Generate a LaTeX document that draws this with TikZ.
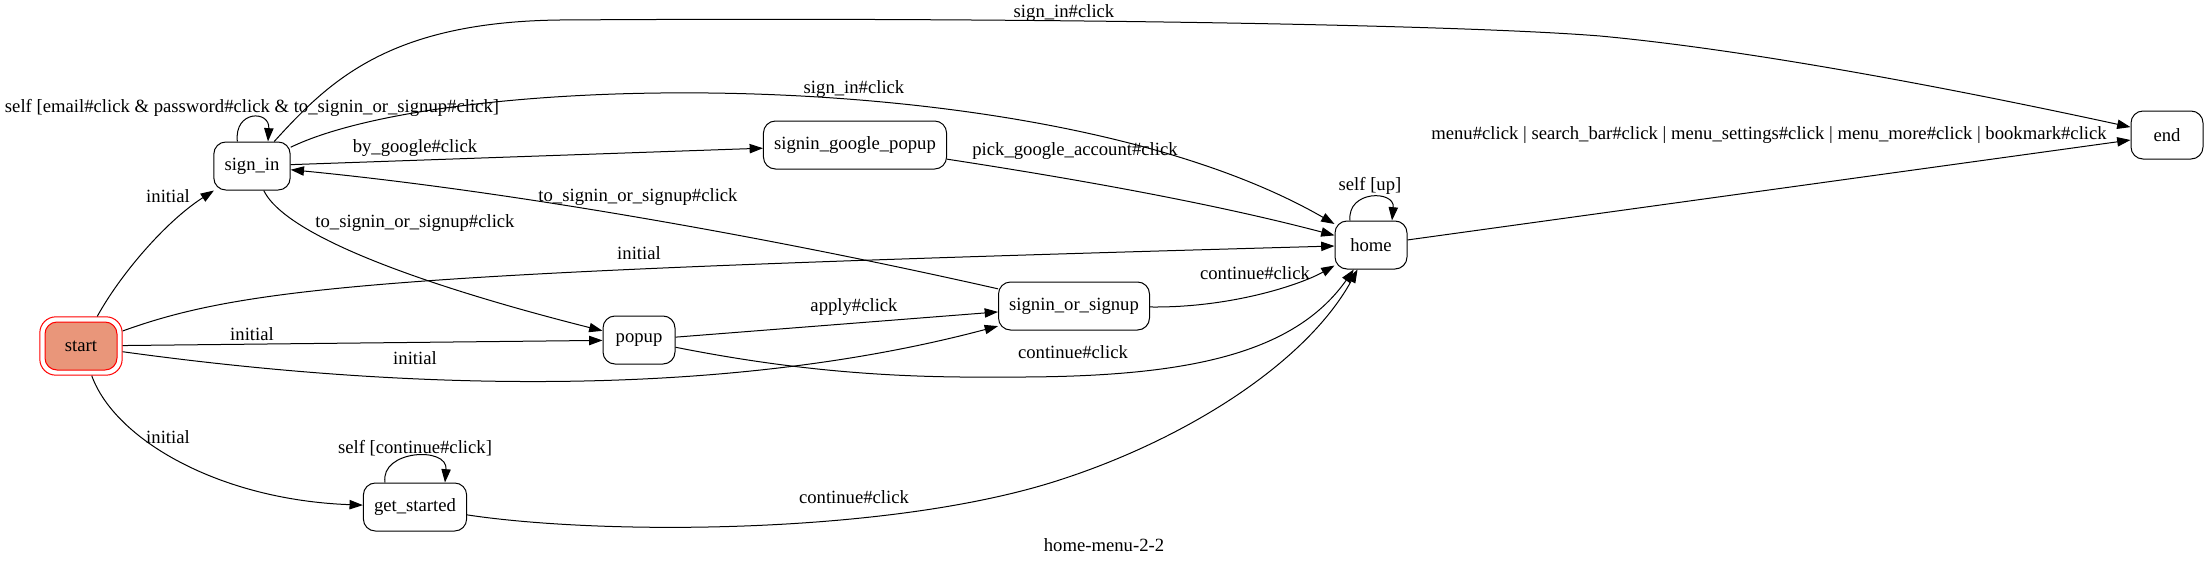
\documentclass[tikz,border=0pt]{standalone}
\usepackage{fontspec}
\setmainfont{Liberation Serif}
\usetikzlibrary{arrows.meta,fit}
\definecolor{csalmon}{RGB}{233,150,122}

\begin{document}
\begin{tikzpicture}[x=0.75pt, y=-0.75pt,
    >={Triangle[length=10pt,width=7pt]},
    every node/.style={font=\fontsize{14pt}{16pt}\selectfont},
    stbox/.style={draw, rounded corners=9pt, minimum width=54pt, minimum height=36pt,
                  inner xsep=8pt, line width=0.75pt},
    ring/.style={draw=red, rounded corners=12pt, inner sep=3.5pt, line width=0.75pt},
    lbl/.style={inner sep=0pt},
    conn/.style={->, line width=0.75pt},
  ]
  \useasboundingbox (0,0) rectangle (2209,567);
  % start
  \node[stbox, draw=red, fill=csalmon] (startin) at (81,346) {start};
  \node[ring, fit=(startin)] (start) {};
  % states
  \node[stbox] (signin) at (252,166) {sign\_in};
  \node[stbox] (gpopup) at (855,145) {signin\_google\_popup};
  \node[stbox] (popup) at (639,340) {popup};
  \node[stbox] (sos) at (1074,306) {signin\_or\_signup};
  \node[stbox] (home) at (1371,245) {home};
  \node[stbox] (fin) at (2167,135) {end};
  \node[stbox] (getstarted) at (415,507) {get\_started};

  % from start
  \draw[conn] (start) .. controls (120,275) and (165,222) .. (signin);
  \draw[conn] (start) .. controls (250,285) and (400,272) .. (home);
  \draw[conn] (start) -- (popup);
  \draw[conn] (start) .. controls (400,390) and (720,400) .. (sos);
  \draw[conn] (start) .. controls (115,440) and (220,500) .. (getstarted);
  \node[lbl] (initsi) at (168,196) {initial};
  \node[lbl] (inithome) at (639,253) {initial};
  \node[lbl] (initpopup) at (252,334) {initial};
  \node[lbl] (initsos) at (415,358) {initial};
  \node[lbl] (initgs) at (168,437) {initial};

  % from sign_in
  \draw[conn] ([xshift=-11pt]signin.north) .. controls (234,110) and (270,110) .. ([xshift=12pt]signin.north);
  \draw[conn] (signin) -- (gpopup);
  \draw[conn] (signin) .. controls (290,245) and (480,300) .. (popup);
  \draw[conn] (signin) .. controls (450,70) and (1050,60) .. (home);
  \draw[conn] (signin) .. controls (330,80) and (390,22) .. (560,20)
    .. controls (1000,17) and (1450,24) .. (1600,36)
    .. controls (1750,50) and (1950,88) .. (fin);
  \node[lbl] (selfsi) at (252,108) {self [email\#click \& password\#click \& to\_signin\_or\_signup\#click]};
  \node[lbl] (bygoogle) at (415,148) {by\_google\#click};
  \node[lbl] (tosos) at (415,223) {to\_signin\_or\_signup\#click};
  \node[lbl] (sihome) at (854,89) {sign\_in\#click};
  \node[lbl] (sifin) at (1064,13) {sign\_in\#click};

  % google popup
  \draw[conn] (gpopup) .. controls (1050,175) and (1200,200) .. (home);
  \node[lbl] (pick) at (1075,151) {pick\_google\_account\#click};

  % signin_or_signup
  \draw[conn] (sos) .. controls (760,235) and (500,190) .. (signin);
  \draw[conn] (sos) .. controls (1230,308) and (1300,285) .. (home);
  \node[lbl] (tosi) at (638,197) {to\_signin\_or\_signup\#click};
  \node[lbl] (contsos) at (1255,273) {continue\#click};

  % popup
  \draw[conn] (popup) -- (sos);
  \draw[conn] (popup) .. controls (800,372) and (900,378) .. (1000,377)
    .. controls (1170,378) and (1290,360) .. (home);
  \node[lbl] (apply) at (854,307) {apply\#click};
  \node[lbl] (contpopup) at (1073,352) {continue\#click};

  % get_started
  \draw[conn] ([xshift=-22.5pt]getstarted.north) .. controls (380,450) and (448,446) .. ([xshift=22.5pt]getstarted.north);
  \draw[conn] (getstarted) .. controls (600,535) and (880,535) .. (1050,483)
    .. controls (1180,443) and (1305,365) .. (home);
  \node[lbl] (selfgs) at (415,448) {self [continue\#click]};
  \node[lbl] (contgs) at (854,497) {continue\#click};

  % home
  \draw[conn] ([xshift=-15.75pt]home.north) .. controls (1347,190) and (1395,190) .. ([xshift=15.75pt]home.north);
  \draw[conn] (home) -- (fin);
  \node[lbl] (selfhome) at (1370,186) {self [up]};
  \node[lbl] (menu) at (1769,135) {menu\#click | search\_bar\#click | menu\_settings\#click | menu\_more\#click | bookmark\#click};

  % caption
  \node (title) at (1104,545) {home-menu-2-2};
\end{tikzpicture}
\end{document}
